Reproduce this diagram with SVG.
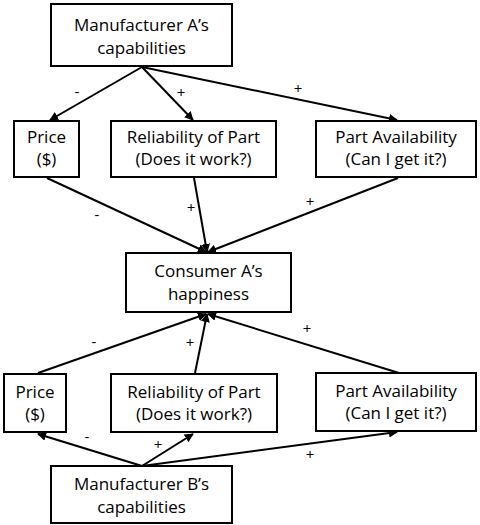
<svg xmlns="http://www.w3.org/2000/svg" width="480" height="525" viewBox="0 0 480 525">
<defs>
<style>
.box{fill:#fff;stroke:#000;stroke-width:2}
.t{font-family:"Open Sans","Liberation Sans",sans-serif;font-size:17px;text-anchor:middle;fill:#000}
.s{font-family:"Open Sans","Liberation Sans",sans-serif;font-size:15px;text-anchor:middle;fill:#000}
.e{stroke:#000;stroke-width:2;fill:none;marker-end:url(#ah)}
</style>
<marker id="ah" viewBox="0 0 10 10" refX="9" refY="5" markerWidth="4.5" markerHeight="4.5" orient="auto" markerUnits="strokeWidth">
<path d="M0,0 L10,5 L0,10 z" fill="#000"/>
</marker>
</defs>
<rect width="480" height="525" fill="#fff"/>
<g id="connectors">
<line class="e" x1="142" y1="67" x2="50" y2="120"/>
<line class="e" x1="142" y1="67" x2="193" y2="120"/>
<line class="e" x1="142" y1="67" x2="397" y2="120"/>
<line class="e" x1="47" y1="178" x2="206" y2="252"/>
<line class="e" x1="194" y1="178" x2="207" y2="252"/>
<line class="e" x1="398" y1="178" x2="208" y2="252"/>
<line class="e" x1="38" y1="373" x2="206" y2="314"/>
<line class="e" x1="195" y1="373" x2="207" y2="314"/>
<line class="e" x1="399" y1="373" x2="208" y2="314"/>
<line class="e" x1="142" y1="466" x2="38" y2="434"/>
<line class="e" x1="142" y1="466" x2="193" y2="434"/>
<line class="e" x1="142" y1="466" x2="397" y2="432"/>
<text class="s" x="77" y="97">-</text>
<text class="s" x="181" y="98">+</text>
<text class="s" x="298" y="94">+</text>
<text class="s" x="97" y="220">-</text>
<text class="s" x="191" y="213">+</text>
<text class="s" x="310" y="207">+</text>
<text class="s" x="94" y="347">-</text>
<text class="s" x="190" y="348">+</text>
<text class="s" x="307" y="334">+</text>
<text class="s" x="87" y="442">-</text>
<text class="s" x="158" y="450">+</text>
<text class="s" x="310" y="460">+</text>
</g>
<g id="manA">
<rect class="box" x="51" y="4" width="181" height="62"/>
<text class="t" x="141.5" y="31">Manufacturer A’s</text>
<text class="t" x="141.5" y="54">capabilities</text>
</g>
<g id="priceA">
<rect class="box" x="14" y="121" width="65" height="56"/>
<text class="t" x="46.5" y="143">Price</text>
<text class="t" x="46.5" y="165">($)</text>
</g>
<g id="relA">
<rect class="box" x="111" y="121" width="165" height="56"/>
<text class="t" x="193.5" y="143">Reliability of Part</text>
<text class="t" x="193.5" y="165">(Does it work?)</text>
</g>
<g id="availA">
<rect class="box" x="316" y="121" width="160" height="56"/>
<text class="t" x="396" y="143">Part Availability</text>
<text class="t" x="396" y="165">(Can I get it?)</text>
</g>
<g id="consumerA">
<rect class="box" x="126" y="253" width="165" height="59"/>
<text class="t" x="208.5" y="277">Consumer A’s</text>
<text class="t" x="208.5" y="300">happiness</text>
</g>
<g id="priceB">
<rect class="box" x="4" y="374" width="62" height="58"/>
<text class="t" x="35" y="398">Price</text>
<text class="t" x="35" y="420">($)</text>
</g>
<g id="relB">
<rect class="box" x="111" y="374" width="166" height="58"/>
<text class="t" x="194" y="398">Reliability of Part</text>
<text class="t" x="194" y="420">(Does it work?)</text>
</g>
<g id="availB">
<rect class="box" x="316" y="373" width="160" height="58"/>
<text class="t" x="396" y="397">Part Availability</text>
<text class="t" x="396" y="419">(Can I get it?)</text>
</g>
<g id="manB">
<rect class="box" x="51" y="466" width="181" height="57"/>
<text class="t" x="141.5" y="490">Manufacturer B’s</text>
<text class="t" x="141.5" y="513">capabilities</text>
</g>
</svg>
